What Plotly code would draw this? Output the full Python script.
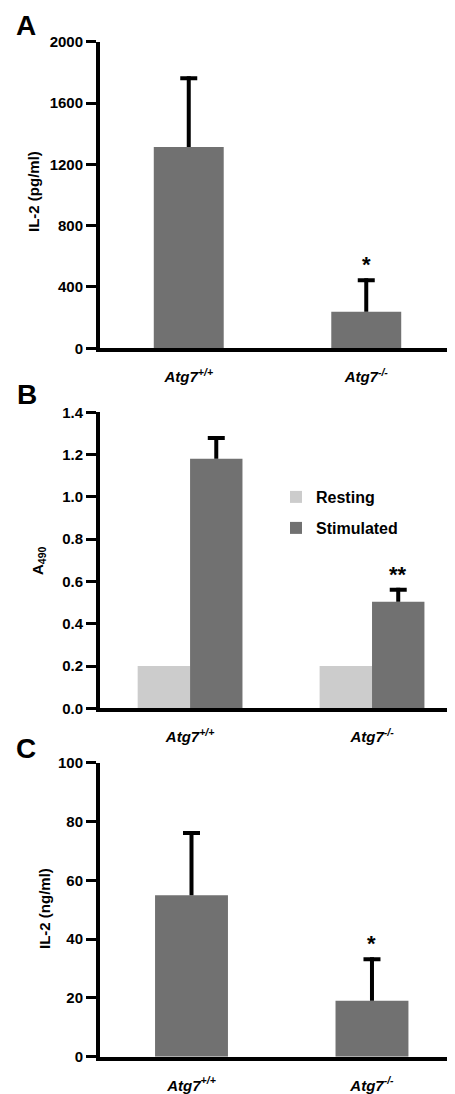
import plotly.graph_objects as go

# ---------------- data ----------------
genotypes = ["Atg7+/+", "Atg7-/-"]
genotype_labels = ["<b><i>Atg7</i></b><sup><b><i>+/+</i></b></sup>",
                   "<b><i>Atg7</i></b><sup><b><i>-/-</i></b></sup>"]

il2_pg = [1313, 239]          # panel A, IL-2 (pg/ml)
il2_pg_err = [461, 218]
il2_pg_sig = ["", "*"]

a490_resting = [0.20, 0.20]   # panel B
a490_stim = [1.18, 0.504]
a490_stim_err = [0.108, 0.066]
a490_sig = ["", "**"]

il2_ng = [54.9, 19.0]         # panel C, IL-2 (ng/ml)
il2_ng_err = [21.9, 14.8]
il2_ng_sig = ["", "*"]

# ---------------- styling ----------------
PAGE_OFF = 8                  # default body margin of the html page
W, H = 455 - PAGE_OFF, 1094 - PAGE_OFF
BAR = "#717171"
REST = "#cccccc"
FONT = "Liberation Sans, Arial, Helvetica, sans-serif"


def px(p):
    return (p - PAGE_OFF) / W


def py(p):
    return (H - (p - PAGE_OFF)) / H


# panel geometry in page pixels
panels = {
    "A": dict(top=41.7, bottom=348.3, ymax=2000, xr=[-0.5, 1.5]),
    "B": dict(top=412.3, bottom=708.3, ymax=1.4, xr=[-0.495, 1.456]),
    "C": dict(top=762.7, bottom=1056.7, ymax=100, xr=[-0.507, 1.46]),
}
X_LEFT = 100
PLOT_W = 455 - X_LEFT

STEM = 4      # px
CAP_W = 17    # px
CAP_H = 4     # px

fig = go.Figure()


def add_err(xa, ya, panel, vals, errs, width_off=None):
    """Error stem (error_y without caps) is on the bar trace; add the cap as a thin bar."""
    p = panels[panel]
    unit_y = (p["bottom"] - p["top"]) / p["ymax"]
    unit_x = PLOT_W / (p["xr"][1] - p["xr"][0])
    cw = CAP_W / unit_x
    ch = CAP_H / unit_y
    tops = [v + e for v, e in zip(vals, errs)]
    kw = dict(width=cw)
    if width_off is not None:
        kw["offset"] = width_off - cw / 2
    fig.add_trace(go.Bar(x=genotypes, y=[ch] * len(tops), base=[t - ch for t in tops],
                         marker_color="black", marker_line_width=0, showlegend=False,
                         hoverinfo="skip", xaxis=xa, yaxis=ya, **kw))


err_style = dict(type="data", symmetric=False, arrayminus=[0, 0],
                 color="black", thickness=STEM, width=0)

fig.add_trace(go.Bar(x=genotypes, y=il2_pg, width=0.394, marker_color=BAR,
                     marker_line_width=0, showlegend=False,
                     error_y=dict(array=il2_pg_err, **err_style),
                     xaxis="x", yaxis="y"))
add_err("x", "y", "A", il2_pg, il2_pg_err)

fig.add_trace(go.Bar(x=genotypes, y=a490_resting, width=0.288, offset=-0.288,
                     marker_color=REST, marker_line_width=0, name="Resting",
                     legend="legend", xaxis="x2", yaxis="y2"))
fig.add_trace(go.Bar(x=genotypes, y=a490_stim, width=0.288, offset=0,
                     marker_color=BAR, marker_line_width=0, name="Stimulated",
                     legend="legend2",
                     error_y=dict(array=a490_stim_err, **err_style),
                     xaxis="x2", yaxis="y2"))
add_err("x2", "y2", "B", a490_stim, a490_stim_err, width_off=0.144)

fig.add_trace(go.Bar(x=genotypes, y=il2_ng, width=0.404, marker_color=BAR,
                     marker_line_width=0, showlegend=False,
                     error_y=dict(array=il2_ng_err, **err_style),
                     xaxis="x3", yaxis="y3"))
add_err("x3", "y3", "C", il2_ng, il2_ng_err)

xdom = [px(X_LEFT), 1]
yax_common = dict(showline=True, linewidth=4, linecolor="black",
                  ticks="outside", ticklen=10, tickwidth=3, tickcolor="black",
                  showgrid=False, zeroline=False, automargin=False,
                  tickfont=dict(family=FONT, size=15, color="black", weight="bold"))
xax_common = dict(showline=True, linewidth=4, linecolor="black", ticks="",
                  showgrid=False, zeroline=False, automargin=False,
                  type="category", tickmode="array", tickvals=genotypes,
                  ticktext=genotype_labels, ticklabelstandoff=12,
                  tickfont=dict(family=FONT, size=15, color="black"))

legend_font = dict(family=FONT, size=16, color="black", weight="bold")
fig.update_layout(
    width=W, height=H,
    margin=dict(l=0, r=0, t=0, b=0),
    paper_bgcolor="white", plot_bgcolor="white",
    barmode="overlay",
    font=dict(family=FONT, color="black"),
    xaxis=dict(domain=xdom, range=panels["A"]["xr"], anchor="y", **xax_common),
    yaxis=dict(domain=[py(panels["A"]["bottom"]), py(panels["A"]["top"])],
               range=[0, panels["A"]["ymax"]], dtick=400, anchor="x", **yax_common),
    xaxis2=dict(domain=xdom, range=panels["B"]["xr"], anchor="y2", **xax_common),
    yaxis2=dict(domain=[py(panels["B"]["bottom"]), py(panels["B"]["top"])],
                range=[0, panels["B"]["ymax"]], dtick=0.2, tickformat=".1f",
                anchor="x2", **yax_common),
    xaxis3=dict(domain=xdom, range=panels["C"]["xr"], anchor="y3", **xax_common),
    yaxis3=dict(domain=[py(panels["C"]["bottom"]), py(panels["C"]["top"])],
                range=[0, panels["C"]["ymax"]], dtick=20, anchor="x3", **yax_common),
    legend=dict(x=px(276), xanchor="left", y=py(497), yanchor="middle",
                font=legend_font, bgcolor="rgba(0,0,0,0)", borderwidth=0),
    legend2=dict(x=px(276), xanchor="left", y=py(528), yanchor="middle",
                 font=legend_font, bgcolor="rgba(0,0,0,0)", borderwidth=0),
)

annotations = []
# panel letters
letter_font = dict(family=FONT, size=28, color="black")
annotations.append(dict(text="<b>A</b>", xref="paper", yref="paper",
                        x=px(26), y=1, xanchor="center", yanchor="top",
                        showarrow=False, font=letter_font))
for letter, (lx, ly) in {"B": (26.5, 394), "C": (26, 748)}.items():
    annotations.append(dict(text=f"<b>{letter}</b>", xref="paper", yref="paper",
                            x=px(lx), y=py(ly), xanchor="center", yanchor="middle",
                            showarrow=False, font=letter_font))
# y-axis titles
for txt, (tx, ty) in {"<b>IL-2 (pg/ml)</b>": (33, 192),
                      "<b>A<sub>490</sub></b>": (38, 561),
                      "<b>IL-2 (ng/ml)</b>": (45, 909)}.items():
    annotations.append(dict(text=txt, xref="paper", yref="paper",
                            x=px(tx), y=py(ty), xanchor="center", yanchor="middle",
                            textangle=-90, showarrow=False,
                            font=dict(family=FONT, size=15, color="black")))
# significance marks
for xr, yr, vals, errs, sig in [("x", "y", il2_pg, il2_pg_err, il2_pg_sig),
                                ("x2", "y2", a490_stim, a490_stim_err, a490_sig),
                                ("x3", "y3", il2_ng, il2_ng_err, il2_ng_sig)]:
    for g, v, e, s in zip(genotypes, vals, errs, sig):
        if not s:
            continue
        ann = dict(text=f"<b>{s}</b>", xref=xr, yref=yr, x=g, y=v + e,
                   xanchor="center", yanchor="bottom", yshift=-1, showarrow=False,
                   font=dict(family=FONT, size=22, color="black"))
        if xr == "x2":
            ann["xshift"] = 26
        annotations.append(ann)

fig.update_layout(annotations=annotations)

fig.write_html("out.html")
